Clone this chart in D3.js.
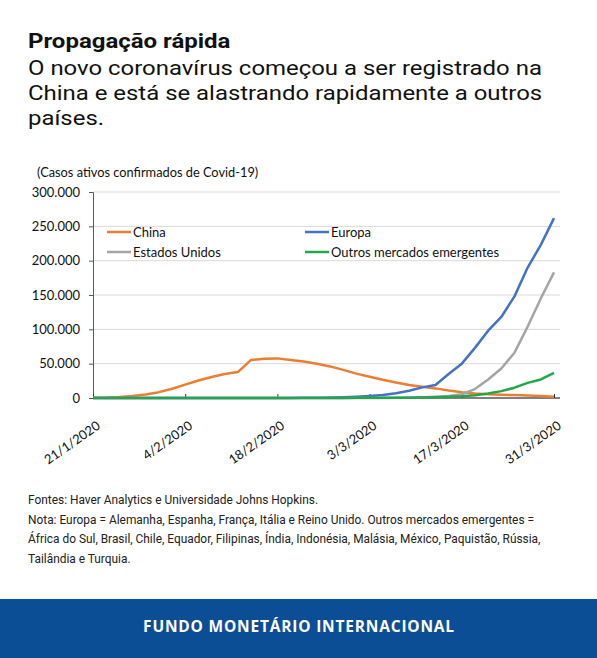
<!DOCTYPE html>
<html><head><meta charset="utf-8">
<script src="https://cdn.jsdelivr.net/npm/d3@7"></script>
<style>
html,body{margin:0;padding:0;background:#fff;}
svg{display:block;}
</style></head>
<body>
<script>
// ---- DATA ----
const dates = ["2020-01-21","2020-01-23","2020-01-25","2020-01-27","2020-01-29","2020-01-31",
"2020-02-02","2020-02-04","2020-02-06","2020-02-08","2020-02-10","2020-02-12","2020-02-14",
"2020-02-16","2020-02-18","2020-02-20","2020-02-22","2020-02-24","2020-02-26","2020-02-28",
"2020-03-01","2020-03-03","2020-03-05","2020-03-07","2020-03-09","2020-03-11","2020-03-13",
"2020-03-15","2020-03-17","2020-03-19","2020-03-21","2020-03-23","2020-03-25","2020-03-27",
"2020-03-29","2020-03-31"];
const china = [400,700,1500,2800,5000,8500,13500,19500,25500,30500,35000,37800,55500,57000,57700,
55500,53000,50000,46000,41000,35500,31000,26500,22500,19000,16500,14000,11000,8500,6500,5500,
4800,4200,3500,2800,2000];
const europa = [0,0,0,10,20,30,40,40,40,40,40,40,40,30,30,100,200,300,700,1200,2000,3000,4300,
7000,10500,15500,19000,35000,50000,73000,98000,118000,148000,190000,223000,262000];
const estadosUnidos = [0,0,0,5,5,5,10,10,10,10,10,10,15,15,15,15,20,30,40,50,60,80,150,300,600,
1000,1800,2800,5500,13000,27000,43000,66000,104000,145000,183000];
const outrosEmergentes = [0,0,0,0,0,0,0,0,0,0,10,10,20,20,30,40,60,80,100,150,200,250,300,350,
500,800,1200,1800,2500,4000,6500,10000,15000,22000,27000,36500];
const seriesNames = ["China","Europa","Estados Unidos","Outros mercados emergentes"];
const seriesColors = ["#ed7d31","#4472c4","#a5a5a5","#22a64b"];
const yTicks = [0,50000,100000,150000,200000,250000,300000];
const xTickDates = ["2020-01-21","2020-02-04","2020-02-18","2020-03-03","2020-03-17","2020-03-31"];
const xTickLabels = ["21/1/2020","4/2/2020","18/2/2020","3/3/2020","17/3/2020","31/3/2020"];

// ---- CHART ----
const W = 597, H = 658;
const svg = d3.select("body").append("svg").attr("width", W).attr("height", H);
const parse = d3.timeParse("%Y-%m-%d");
const locale = d3.formatLocale({decimal:",", thousands:".", grouping:[3], currency:["",""]});
const fmt = locale.format(",d");

// Title
svg.append("text").attr("transform","translate(28,48) scale(1.17,1)")
  .style("font-family","Roboto").style("font-weight","bold").style("font-size","20.5px").attr("fill","#111")
  .text("Propagação rápida");
const sub = ["O novo coronavírus começou a ser registrado na","China e está se alastrando rapidamente a outros","países."];
sub.forEach((s,i)=>svg.append("text").attr("transform",`translate(28,${75+i*25}) scale(1.14,1)`)
  .style("font-family","Roboto").style("font-size","21px").attr("fill","#111").text(s));

const chartFont = "Lato, 'Open Sans', sans-serif";
svg.append("text").attr("x",37).attr("y",177)
  .style("font-family",chartFont).style("font-size","12.8px").attr("fill","#111")
  .text("(Casos ativos confirmados de Covid-19)");

const x = d3.scaleTime().domain([parse("2020-01-21"), parse("2020-03-31")]).range([93, 554]);
const y = d3.scaleLinear().domain([0,300000]).range([398,192]);

// gridlines
svg.append("g").selectAll("line").data(yTicks.slice(1)).join("line")
  .attr("x1",93).attr("x2",560).attr("y1",d=>y(d)).attr("y2",d=>y(d))
  .attr("stroke","#d9d9d9").attr("stroke-width",1);

// y axis
const yAxis = d3.axisLeft(y).tickValues(yTicks).tickSize(4).tickPadding(9).tickFormat(d=>fmt(d));
const gy = svg.append("g").attr("transform","translate(93,0)").call(yAxis);
gy.select(".domain").attr("stroke","#595959");
gy.selectAll(".tick line").attr("stroke","#595959");
gy.selectAll("text").style("font-family",chartFont).style("font-size","13px").attr("fill","#111");

// x axis
const xAxis = d3.axisTop(x).tickValues(xTickDates.map(parse)).tickSize(4).tickFormat("");
const gx = svg.append("g").attr("transform","translate(0,398)").call(xAxis);
gx.select(".domain").attr("d","M93,0H560").attr("stroke","#000");
gx.selectAll(".tick line").attr("stroke","#333");
gx.selectAll(".tick").append("text")
  .text((d,i)=>xTickLabels[i])
  .attr("text-anchor","end").attr("transform","translate(5,26) rotate(-35)").attr("dy","0.35em")
  .style("font-family",chartFont).style("font-size","13px").attr("fill","#111");

// lines
const allSeries = [china, europa, estadosUnidos, outrosEmergentes];
const line = d3.line().x((d,i)=>x(parse(dates[i]))).y(d=>y(d));
[0,1,2,3].forEach(k=>{
  svg.append("path").datum(allSeries[k]).attr("d",line)
    .attr("fill","none").attr("stroke",seriesColors[k]).attr("stroke-width",2.5)
    .attr("stroke-linejoin","round");
});

// legend
const legPos = [[107,232],[305,232],[107,252],[305,252]];
seriesNames.forEach((n,i)=>{
  const g = svg.append("g").attr("transform",`translate(${legPos[i][0]},${legPos[i][1]})`);
  g.append("line").attr("x1",0).attr("x2",24).attr("stroke",seriesColors[i]).attr("stroke-width",2.5);
  g.append("text").attr("x",26).attr("dy","0.35em").text(n)
    .style("font-family",chartFont).style("font-size","13px").attr("fill","#111");
});

// footer notes
const notes = ["Fontes: Haver Analytics e Universidade Johns Hopkins.",
"Nota: Europa = Alemanha, Espanha, França, Itália e Reino Unido. Outros mercados emergentes =",
"África do Sul, Brasil, Chile, Equador, Filipinas, Índia, Indonésia, Malásia, México, Paquistão, Rússia,",
"Tailândia e Turquia."];
notes.forEach((s,i)=>svg.append("text").attr("x",28).attr("y",504+i*19.5)
  .style("font-family","Roboto").style("font-size","11.9px").attr("fill","#222").text(s));

// banner
svg.append("rect").attr("x",0).attr("y",599).attr("width",W).attr("height",H-599).attr("fill","#0b4e96");
svg.append("text").attr("x",299).attr("y",632).attr("text-anchor","middle")
  .style("font-family","'Open Sans', Lato, sans-serif").style("font-weight","bold").style("font-size","15.5px")
  .style("letter-spacing","0.8px").attr("fill","#fff").text("FUNDO MONETÁRIO INTERNACIONAL");
</script>
</body></html>
